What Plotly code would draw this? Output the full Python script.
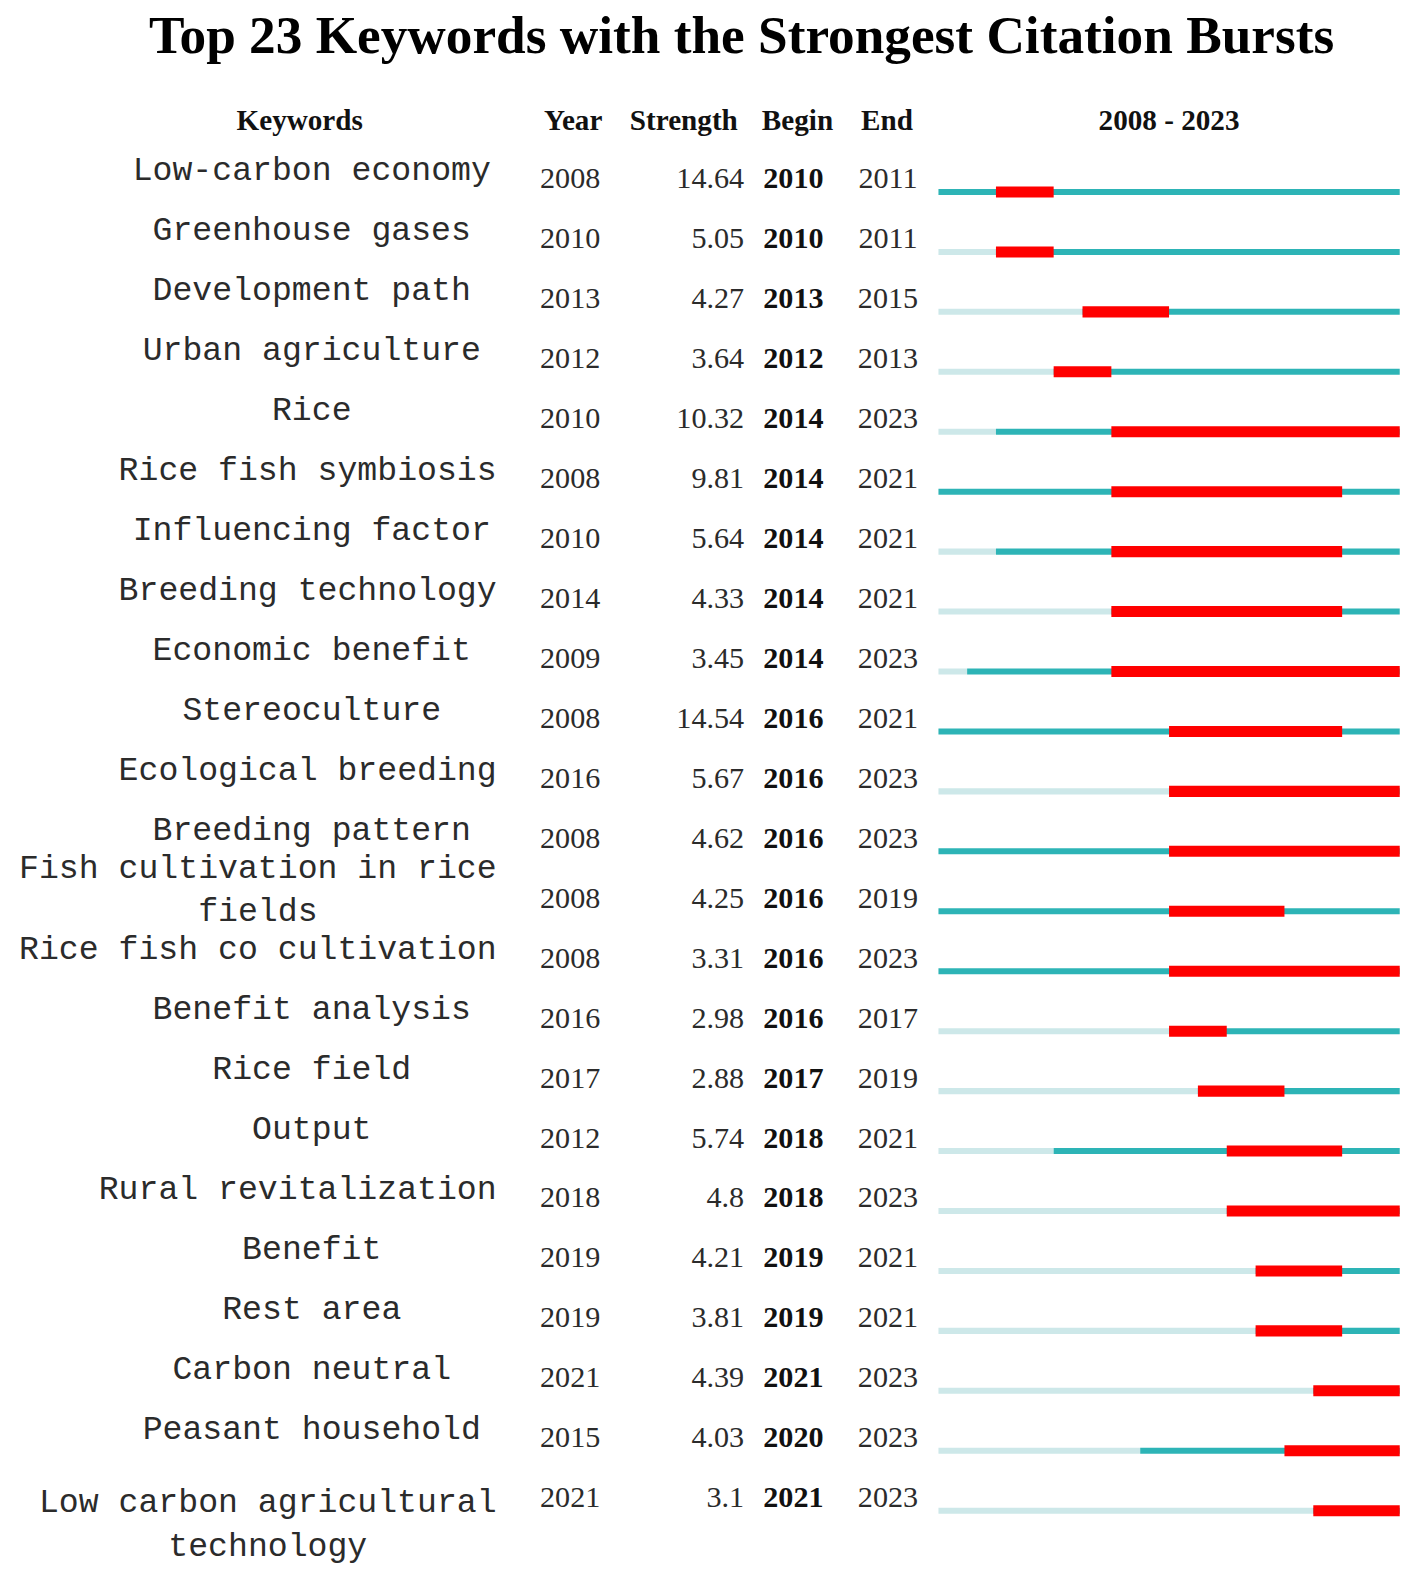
import plotly.graph_objects as go

keywords = [
    "Low-carbon economy", "Greenhouse gases", "Development path", "Urban agriculture",
    "Rice", "Rice fish symbiosis", "Influencing factor", "Breeding technology",
    "Economic benefit", "Stereoculture", "Ecological breeding", "Breeding pattern",
    "Fish cultivation in rice<br>fields", "Rice fish co cultivation", "Benefit analysis",
    "Rice field", "Output", "Rural revitalization", "Benefit", "Rest area",
    "Carbon neutral", "Peasant household", "Low carbon agricultural<br>technology",
]
years = [2008, 2010, 2013, 2012, 2010, 2008, 2010, 2014, 2009, 2008, 2016, 2008,
         2008, 2008, 2016, 2017, 2012, 2018, 2019, 2019, 2021, 2015, 2021]
strength = [14.64, 5.05, 4.27, 3.64, 10.32, 9.81, 5.64, 4.33, 3.45, 14.54, 5.67, 4.62,
            4.25, 3.31, 2.98, 2.88, 5.74, 4.8, 4.21, 3.81, 4.39, 4.03, 3.1]
begin = [2010, 2010, 2013, 2012, 2014, 2014, 2014, 2014, 2014, 2016, 2016, 2016,
         2016, 2016, 2016, 2017, 2018, 2018, 2019, 2019, 2021, 2020, 2021]
end = [2011, 2011, 2015, 2013, 2023, 2021, 2021, 2021, 2023, 2021, 2023, 2023,
       2019, 2023, 2017, 2019, 2021, 2023, 2021, 2021, 2023, 2023, 2023]
first_year, last_year = 2008, 2023

W, H = 1418, 1577
S = 0.9947  # the page comes out slightly shrunk, so draw a touch larger
SERIF = "Liberation Serif, Times New Roman, serif"
MONO = "Liberation Mono, DejaVu Sans Mono, monospace"
INK = "#2b2b2b"
rows = list(range(len(keywords)))

# row i line sits at pixel 191 + 59.64*i
row_px = 59.64
y_top = -191 / row_px
y_bot = (H - 191) / row_px
num_dy = -11 / row_px
kw_dy = -20 / row_px
head_y = (122 - 191) / row_px


def fs(size):
    return size / S


def segs(starts, stops):
    xs, ys = [], []
    for i, (a, b) in enumerate(zip(starts, stops)):
        xs += [a, b, None]
        ys += [i, i, None]
    return xs, ys


def kw_center(label):
    # centred near x=310, pushed left when the longest line would hit the Year column
    w = max(len(s) for s in label.split("<br>")) * 19.8
    return min(310, 494 - w / 2)


# a wrapped label in the last row hangs downward into the free space below
kw_pos = ["bottom center" if ("<br>" in k and i == len(keywords) - 1) else "middle center"
          for i, k in enumerate(keywords)]
kw_y = [i + kw_dy - (0.05 if p.startswith("bottom") else 0) for i, p in zip(rows, kw_pos)]

fig = go.Figure()

# timeline: before keyword appears, after it appears, burst period
lx, ly = segs([first_year] * len(years), years)
tx, ty = segs(years, [last_year + 1] * len(years))
rx, ry = segs(begin, [e + 1 for e in end])
fig.add_scatter(x=lx, y=ly, xaxis="x2", mode="lines", line=dict(color="#cde8e9", width=fs(6)), hoverinfo="skip")
fig.add_scatter(x=tx, y=ty, xaxis="x2", mode="lines", line=dict(color="#2db4b6", width=fs(6)), hoverinfo="skip")
fig.add_scatter(x=rx, y=ry, xaxis="x2", mode="lines", line=dict(color="#ff0000", width=fs(11)), hoverinfo="skip")

# table columns
fig.add_scatter(x=[kw_center(k) for k in keywords], y=kw_y, mode="text", text=keywords,
                textposition=kw_pos, textfont=dict(family=MONO, size=fs(33), color=INK), hoverinfo="skip")
fig.add_scatter(x=[567] * len(rows), y=[i + num_dy for i in rows], mode="text", text=[str(v) for v in years],
                textposition="middle center", textfont=dict(family=SERIF, size=fs(30), color=INK), hoverinfo="skip")
fig.add_scatter(x=[740] * len(rows), y=[i + num_dy for i in rows], mode="text", text=[f"{v:g}" for v in strength],
                textposition="middle left", textfont=dict(family=SERIF, size=fs(30), color=INK), hoverinfo="skip")
fig.add_scatter(x=[789] * len(rows), y=[i + num_dy for i in rows], mode="text", text=[f"<b>{v}</b>" for v in begin],
                textposition="middle center", textfont=dict(family=SERIF, size=fs(30), color="#111"), hoverinfo="skip")
fig.add_scatter(x=[883] * len(rows), y=[i + num_dy for i in rows], mode="text", text=[str(v) for v in end],
                textposition="middle center", textfont=dict(family=SERIF, size=fs(30), color=INK), hoverinfo="skip")

# headers
fig.add_scatter(x=[298, 570, 680, 793, 882], y=[head_y] * 5, mode="text",
                text=["<b>Keywords</b>", "<b>Year</b>", "<b>Strength</b>", "<b>Begin</b>", "<b>End</b>"],
                textposition="middle center", textfont=dict(family=SERIF, size=fs(29), color="#111"), hoverinfo="skip")
fig.add_scatter(x=[(first_year + last_year + 1) / 2], y=[head_y], xaxis="x2", mode="text",
                text=[f"<b>{first_year} - {last_year}</b>"], textposition="middle center",
                textfont=dict(family=SERIF, size=fs(29), color="#111"), hoverinfo="skip")

fig.update_layout(
    width=round(W / S), height=round(H / S), margin=dict(l=0, r=0, t=0, b=0),
    paper_bgcolor="white", plot_bgcolor="white", showlegend=False,
    title=dict(text="<b>Top 23 Keywords with the Strongest Citation Bursts</b>", x=0.52, xanchor="center",
               y=1 - 34 / H, yanchor="middle", font=dict(family=SERIF, size=fs(53), color="#000")),
    xaxis=dict(range=[0, W], domain=[0, 1], visible=False, fixedrange=True),
    xaxis2=dict(range=[first_year, last_year + 1], domain=[933 / W, 1392 / W], anchor="y",
                visible=False, fixedrange=True),
    yaxis=dict(range=[y_bot, y_top], domain=[0, 1], visible=False, fixedrange=True),
)

fig.write_html("out.html", config={"displayModeBar": False},
               post_script="document.body.style.margin = '0';")
